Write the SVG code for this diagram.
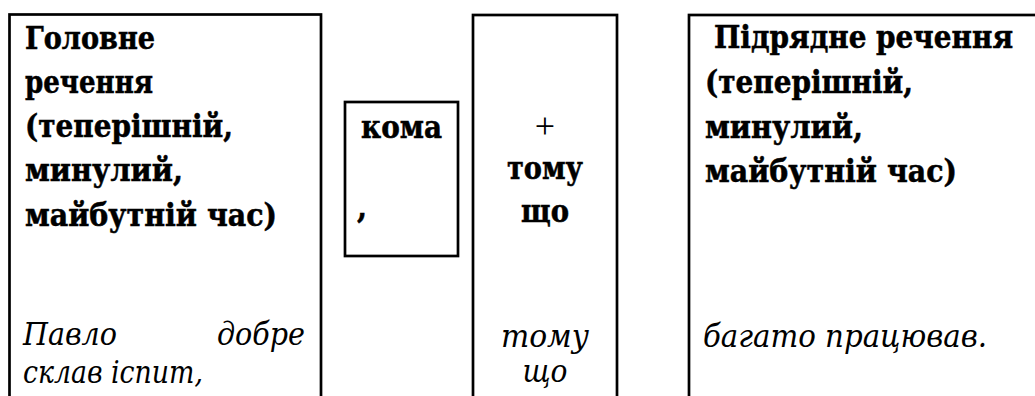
<svg xmlns="http://www.w3.org/2000/svg" width="1035" height="396" viewBox="0 0 1035 396">
<style>
.box{fill:none;stroke:#000;stroke-width:2.7}
.b{font-family:"DejaVu Serif Condensed","DejaVu Serif",serif;font-stretch:condensed;font-weight:bold;font-size:32px;fill:#000;stroke:#000;stroke-width:0.5}
.i{font-family:"DejaVu Serif Condensed","DejaVu Serif",serif;font-stretch:condensed;font-style:italic;font-size:31px;fill:#000}
.r{font-family:"Liberation Serif","Times New Roman",serif;font-size:36px;fill:#000}
.m{text-anchor:middle}
</style>
<rect width="1035" height="396" fill="#fff"/>
<g id="main-clause">
<rect class="box" x="9.5" y="14.5" width="311.5" height="400"/>
<text class="b" x="25" y="49" textLength="130" lengthAdjust="spacingAndGlyphs">Головне</text>
<text class="b" x="25" y="93" textLength="128" lengthAdjust="spacingAndGlyphs">речення</text>
<text class="b" x="25" y="137" textLength="208" lengthAdjust="spacingAndGlyphs">(теперішній,</text>
<text class="b" x="25" y="181" textLength="158" lengthAdjust="spacingAndGlyphs">минулий,</text>
<text class="b" x="25" y="226" textLength="252" lengthAdjust="spacingAndGlyphs">майбутній час)</text>
<text class="i" x="23" y="345" textLength="94" lengthAdjust="spacingAndGlyphs">Павло</text>
<text class="i" x="217" y="345" textLength="88" lengthAdjust="spacingAndGlyphs">добре</text>
<text class="i" x="23" y="383" textLength="180" lengthAdjust="spacingAndGlyphs">склав іспит,</text>
</g>
<g id="comma">
<rect class="box" x="345" y="102" width="113" height="154"/>
<text class="b" x="361" y="138" textLength="81" lengthAdjust="spacingAndGlyphs">кома</text>
<text class="b" x="357" y="218">,</text>
</g>
<g id="conjunction">
<rect class="box" x="473" y="15" width="144" height="400"/>
<text class="r m" x="545" y="138">+</text>
<text class="b m" x="545" y="179" textLength="76" lengthAdjust="spacingAndGlyphs">тому</text>
<text class="b m" x="545" y="222" textLength="48" lengthAdjust="spacingAndGlyphs">що</text>
<text class="i m" x="545" y="347" textLength="88" lengthAdjust="spacingAndGlyphs">тому</text>
<text class="i m" x="545" y="382" textLength="45" lengthAdjust="spacingAndGlyphs">що</text>
</g>
<g id="subordinate-clause">
<rect class="box" x="689" y="15" width="400" height="400"/>
<text class="b" x="714" y="48" textLength="299" lengthAdjust="spacingAndGlyphs">Підрядне речення</text>
<text class="b" x="705" y="93" textLength="208" lengthAdjust="spacingAndGlyphs">(теперішній,</text>
<text class="b" x="705" y="138" textLength="158" lengthAdjust="spacingAndGlyphs">минулий,</text>
<text class="b" x="705" y="182" textLength="252" lengthAdjust="spacingAndGlyphs">майбутній час)</text>
<text class="i" x="703" y="347" textLength="284" lengthAdjust="spacingAndGlyphs">багато працював.</text>
</g>
<g id="connectors"></g>
</svg>
